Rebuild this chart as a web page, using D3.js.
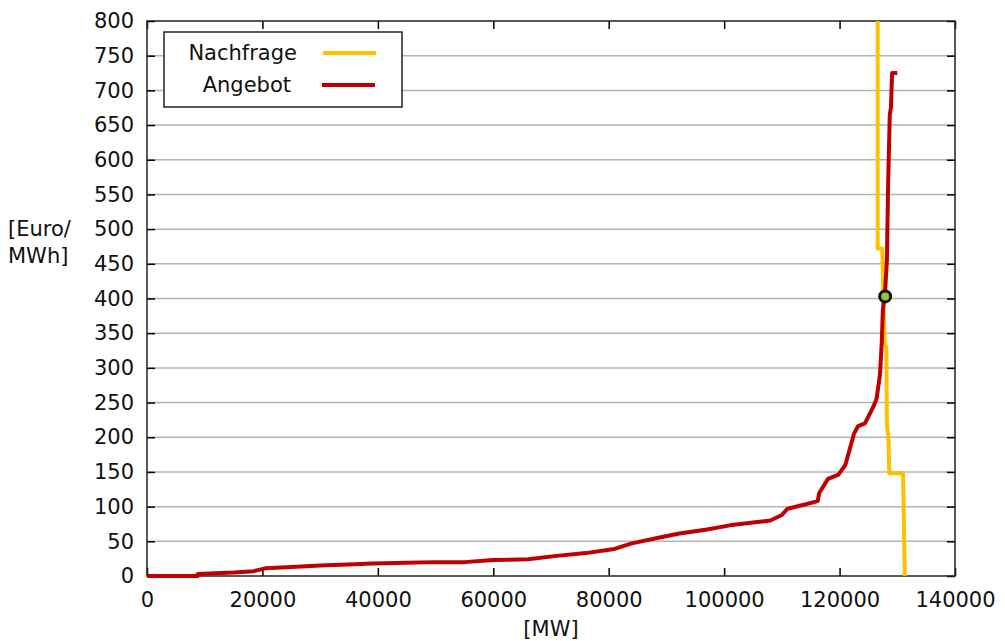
<!DOCTYPE html>
<html>
<head>
<meta charset="utf-8">
<script src="https://cdn.jsdelivr.net/npm/d3@7"></script>
<style>
  body { margin: 0; background: #fff; }
  svg { font-family: "DejaVu Sans", Verdana, sans-serif; }
</style>
</head>
<body>
<svg width="1005" height="641"></svg>
<script>
// Angebot (Merit-Order), MW / Euro pro MWh
var supplyMW = [0, 8800, 8800, 15000, 18500, 20500, 25000, 30000, 36000, 39000, 45000, 50000, 55000,
    60000, 66000, 71000, 76000, 81000, 84000, 88000, 92000, 97000, 101000, 105000, 108000, 110000,
    111000, 114000, 116200, 116500, 118000, 119800, 121000, 122000, 122500, 123200, 124400, 125800,
    126400, 127000, 127300, 127500, 127900, 128200, 128400, 128700, 128900, 129100, 130000];
var supplyPrice = [0, 0, 3, 5, 7, 11, 13, 15, 17, 18, 19, 20, 20,
    23, 24, 29, 33, 39, 47, 54, 61, 67, 73, 77, 80, 88,
    97, 103, 108, 120, 140, 146, 160, 190, 205, 216, 220, 243,
    255, 290, 335, 383, 412, 455, 560, 665, 675, 725, 725];

// Nachfrage
var demandMW = [126600, 126600, 127400, 127600, 127800, 128100, 128200, 128500, 128600, 131000, 131300];
var demandPrice = [800, 472, 472, 400, 335, 330, 220, 195, 148, 148, 0];

// Gleichgewicht
var eqMW = [127900];
var eqPrice = [403];

var xTicks = [0, 20000, 40000, 60000, 80000, 100000, 120000, 140000];
var yTicks = d3.range(0, 801, 50);

var seriesNames = ["Nachfrage", "Angebot"];
var seriesColors = ["#ffc000", "#c00000"];

var svg = d3.select("svg");
var pLeft = 147, pRight = 955, pTop = 21, pBottom = 576;

var x = d3.scaleLinear().domain([0, 140000]).range([pLeft, pRight]);
var y = d3.scaleLinear().domain([0, 800]).range([pBottom, pTop]);

// Gitterlinien
svg.append("g").selectAll("line")
    .data(yTicks.slice(1, -1))
    .enter().append("line")
    .attr("x1", pLeft).attr("x2", pRight)
    .attr("y1", d => y(d)).attr("y2", d => y(d))
    .attr("stroke", "#b4b4b4").attr("stroke-width", 1.5);

// Achsen
var fs = "21px";
var gx = svg.append("g").attr("transform", "translate(0," + pBottom + ")")
    .call(d3.axisBottom(x).tickValues(xTicks).tickFormat(d3.format("d")).tickSizeInner(-8).tickSizeOuter(0).tickPadding(16));
var gxt = svg.append("g").attr("transform", "translate(0," + pTop + ")")
    .call(d3.axisTop(x).tickValues(xTicks).tickFormat("").tickSizeInner(-8).tickSizeOuter(0));
var gy = svg.append("g").attr("transform", "translate(" + pLeft + ",0)")
    .call(d3.axisLeft(y).tickValues(yTicks).tickSizeInner(-8).tickSizeOuter(0).tickPadding(13));
var gyr = svg.append("g").attr("transform", "translate(" + pRight + ",0)")
    .call(d3.axisRight(y).tickValues(yTicks).tickFormat("").tickSizeInner(-8).tickSizeOuter(0));

[gx, gxt, gy, gyr].forEach(function(g){
    g.select(".domain").remove();
    g.selectAll("line").attr("stroke", "#000").attr("stroke-width", 1.5);
    g.selectAll("text").style("font-size", fs).attr("fill", "#111")
        .style("font-family", "'DejaVu Sans', Verdana, sans-serif");
});

// Rahmen
svg.append("rect")
    .attr("x", pLeft).attr("y", pTop)
    .attr("width", pRight - pLeft).attr("height", pBottom - pTop)
    .attr("fill", "none").attr("stroke", "#222").attr("stroke-width", 1.5);

// Kurven
var line = d3.line().x(d => x(d[0])).y(d => y(d[1]));
var supply = supplyMW.map((v, i) => [v, supplyPrice[i]]);
var demand = demandMW.map((v, i) => [v, demandPrice[i]]);

svg.append("path").datum(demand)
    .attr("d", line).attr("fill", "none")
    .attr("stroke", seriesColors[0]).attr("stroke-width", 4)
    .attr("stroke-linejoin", "round");
svg.append("path").datum(supply)
    .attr("d", line).attr("fill", "none")
    .attr("stroke", seriesColors[1]).attr("stroke-width", 4)
    .attr("stroke-linejoin", "round");

svg.append("g").selectAll("circle")
    .data(eqMW)
    .enter().append("circle")
    .attr("cx", d => x(d)).attr("cy", (d, i) => y(eqPrice[i]))
    .attr("r", 5.5).attr("fill", "#8dc63f")
    .attr("stroke", "#111").attr("stroke-width", 3);

// Legende
var lg = svg.append("g");
lg.append("rect")
    .attr("x", 164).attr("y", 32).attr("width", 238).attr("height", 75)
    .attr("fill", "#fff").attr("stroke", "#222").attr("stroke-width", 1.5);
var legendTextX = [297, 291];
seriesNames.forEach(function(name, i){
    var ly = 53 + i * 32;
    lg.append("text")
        .attr("x", legendTextX[i]).attr("y", ly).attr("dy", "0.35em")
        .attr("text-anchor", "end").style("font-size", fs).attr("fill", "#111")
        .text(name);
    lg.append("line")
        .attr("x1", 323 - i).attr("x2", 376 - i).attr("y1", ly).attr("y2", ly)
        .attr("stroke", seriesColors[i]).attr("stroke-width", 4);
});

// Achsentitel
svg.append("text").attr("x", 8).attr("y", 236)
    .style("font-size", fs).attr("fill", "#111").text("[Euro/");
svg.append("text").attr("x", 8).attr("y", 263)
    .style("font-size", fs).attr("fill", "#111").text("MWh]");
svg.append("text").attr("x", 551).attr("y", 636)
    .attr("text-anchor", "middle")
    .style("font-size", fs).attr("fill", "#111").text("[MW]");
</script>
</body>
</html>
